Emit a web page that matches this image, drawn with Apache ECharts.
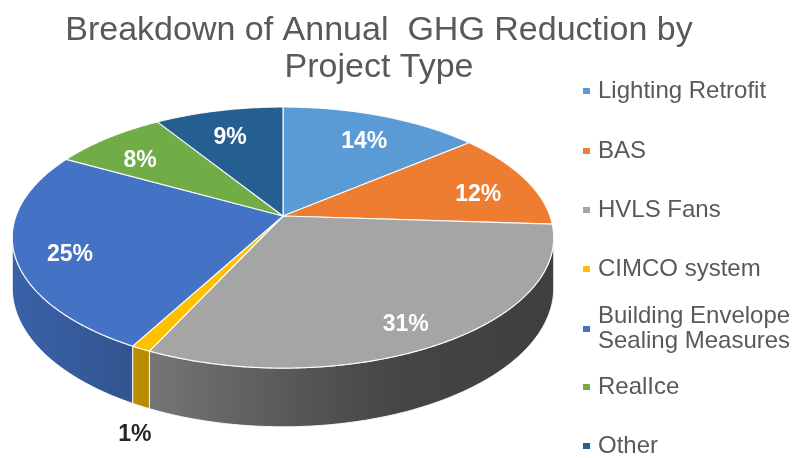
<!DOCTYPE html>
<html>
<head>
<meta charset="utf-8">
<script src="https://cdn.jsdelivr.net/npm/echarts@6/dist/echarts.min.js"></script>
<style>
  html, body { margin: 0; padding: 0; background: #fff; }
  #chart { width: 797px; height: 458px; }
</style>
</head>
<body>
<div id="chart"></div>
<script>
// data (percent of annual GHG reduction)
const categories = ['Lighting Retrofit', 'BAS', 'HVLS Fans', 'CIMCO system',
  'Building Envelope\nSealing Measures', 'RealIce', 'Other'];
const shares = [14, 12, 31, 1, 25, 8, 9];

const colors = ['#5b9bd5', '#ed7d31', '#a5a5a5', '#ffc000', '#4472c4', '#70ad47', '#255e91'];
// legend rows (y of each marker)
const legendRows = [91, 151, 210, 269, 329, 387, 446];

const total = shares.reduce((s, v) => s + v, 0);
const starts = [];
shares.reduce((acc, v) => { starts.push(acc); return acc + v; }, 0);

// tilted pie geometry
const CX = 283, CY = 216, RX = 267, RY = 127, PERSP = 0.165, DEPTH = 49;
const TAU = Math.PI * 2;
const visFrom = Math.acos(-PERSP), visTo = TAU - Math.acos(-PERSP);

function project(phi, r, z) {
    let u = r * Math.sin(phi), v = -r * Math.cos(phi);
    let s = 1 / (1 - PERSP * v);
    return [CX + RX * u * s, CY + (RY * v + DEPTH * z) * s];
}

function arc(a0, a1, r, z) {
    let pts = [];
    let n = Math.max(2, Math.ceil((a1 - a0) / 0.01));
    for (let i = 0; i <= n; i++) {
        pts.push(project(a0 + (a1 - a0) * i / n, r, z));
    }
    return pts;
}

// side lighting gets darker toward the right
const shadeStops = [[0, 0.87], [140, 0.73], [300, 0.52], [400, 0.42], [560, 0.38]];
function shadeAt(x) {
    if (x <= shadeStops[0][0]) return shadeStops[0][1];
    for (let i = 1; i < shadeStops.length; i++) {
        if (x <= shadeStops[i][0]) {
            let p = shadeStops[i - 1], q = shadeStops[i];
            return p[1] + (q[1] - p[1]) * (x - p[0]) / (q[0] - p[0]);
        }
    }
    return shadeStops[shadeStops.length - 1][1];
}
function shade(hex, f) {
    let n = parseInt(hex.slice(1), 16);
    let r = Math.round(((n >> 16) & 255) * f), g = Math.round(((n >> 8) & 255) * f), b = Math.round((n & 255) * f);
    return 'rgb(' + r + ',' + g + ',' + b + ')';
}

function renderSlice(params, api) {
    let value = api.value(0), start = api.value(1);
    let a0 = start / total * TAU, a1 = (start + value) / total * TAU;
    let color = colors[params.seriesIndex];
    let children = [];

    // front wall
    let s0 = Math.max(a0, visFrom), s1 = Math.min(a1, visTo);
    if (s1 > s0) {
        let topArc = arc(s0, s1, 1, 0);
        let botArc = arc(s0, s1, 1, 1).reverse();
        let pts = topArc.concat(botArc);
        let xs = pts.map(p => p[0]);
        let x0 = Math.min.apply(null, xs), x1 = Math.max.apply(null, xs);
        let stops = [];
        for (let i = 0; i <= 8; i++) {
            stops.push({ offset: i / 8, color: shade(color, shadeAt(x0 + (x1 - x0) * i / 8)) });
        }
        children.push({
            type: 'polygon',
            shape: { points: pts },
            style: {
                fill: new echarts.graphic.LinearGradient(x0, 0, Math.max(x1, x0 + 1), 0, stops, true),
                stroke: 'rgba(255,255,255,0.9)',
                lineWidth: 1
            }
        });
    }

    // top face
    children.push({
        type: 'polygon',
        shape: { points: [project(0, 0, 0)].concat(arc(a0, a1, 1, 0)) },
        style: { fill: color, stroke: 'rgba(255,255,255,0.9)', lineWidth: 1.2 }
    });

    // data label
    let pct = Math.round(value / total * 100) + '%';
    let mid = (a0 + a1) / 2;
    let pos, fill;
    if (value / total < 0.03) {
        pos = project(mid, 1, 1);
        pos = [pos[0] - 6, pos[1] + 29];
        fill = '#262626';
    } else {
        pos = project(mid, 0.8, 0.18);
        fill = '#ffffff';
    }
    children.push({
        type: 'text',
        z2: 10,
        style: {
            text: pct, x: pos[0], y: pos[1], fill: fill,
            fontSize: 23, fontWeight: 'bold',
            fontFamily: '"Liberation Sans Narrow", "Arial Narrow", "Liberation Sans", Arial, sans-serif',
            align: 'center', verticalAlign: 'middle'
        }
    });
    return { type: 'group', children: children };
}

const series = categories.map((name, i) => ({
    type: 'custom',
    name: name,
    coordinateSystem: 'none',
    renderItem: renderSlice,
    itemStyle: { color: colors[i] },
    silent: true,
    animation: false,
    data: [[shares[i], starts[i]]]
}));

const legends = categories.map((name, i) => {
    let twoLines = name.indexOf('\n') >= 0;
    return {
        data: [name],
        orient: 'vertical',
        left: 583,
        top: legendRows[i] - (twoLines ? 37.5 : 12.5),
        padding: 0,
        icon: 'rect',
        itemWidth: 7,
        itemHeight: 6,
        selectedMode: false,
        textStyle: {
            fontSize: 24,
            lineHeight: 25,
            color: '#595959',
            fontFamily: '"Liberation Sans", Arial, sans-serif',
            padding: twoLines ? [25, 0, 0, 3] : [0, 0, 0, 3]
        }
    };
});

const chart = echarts.init(document.getElementById('chart'));
chart.setOption({
    backgroundColor: '#ffffff',
    animation: false,
    title: {
        text: 'Breakdown of Annual  GHG Reduction by\nProject Type',
        left: 379,
        textAlign: 'center',
        top: 12,
        padding: 0,
        textStyle: {
            fontSize: 34,
            lineHeight: 37,
            fontWeight: 'normal',
            color: '#595959',
            fontFamily: '"Liberation Sans", Arial, sans-serif'
        }
    },
    legend: legends,
    series: series
});
</script>
</body>
</html>
